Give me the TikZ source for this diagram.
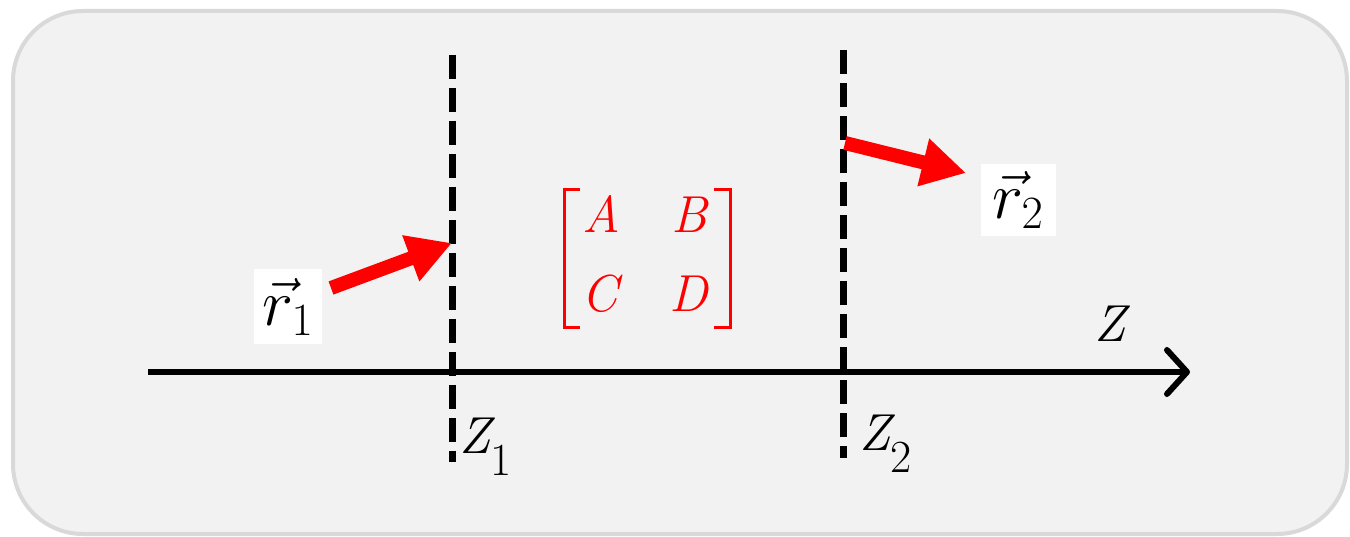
\RequirePackage{fix-cm}
\documentclass[tikz,border=0pt]{standalone}
\usetikzlibrary{arrows.meta}
\definecolor{bgfill}{HTML}{F2F2F2}
\definecolor{bgline}{HTML}{D9D9D9}
\begin{document}
\begin{tikzpicture}[x=1pt,y=-1pt,
  plane/.style={line width=7pt, dash pattern=on 24pt off 9pt},
  redarrow/.style={red, line width=14pt, -{Triangle[length=44pt,width=46pt]}},
  vecbox/.style={fill=white, inner sep=0pt, font=\fontsize{66}{66}\selectfont},
  mat/.style={red, inner sep=0pt, anchor=base, font=\fontsize{52}{52}\selectfont\itshape},
  zlab/.style={inner sep=0pt, anchor=base west, font=\fontsize{52}{52}\selectfont\itshape},
  bracket/.style={red, line width=3pt}
]
\useasboundingbox (0,0) rectangle (1350,537);
\draw[rounded corners=70pt, fill=bgfill, draw=bgline, line width=4pt] (13,11) rectangle (1347,534);
% axis
\coordinate (ax0) at (148,372);
\coordinate (ax1) at (1190,372);
\draw[line width=6pt, -{Straight Barb[length=20pt,width=44pt,round]}] (ax0) -- (ax1);
\node[zlab] (zax) at (1094,342) {Z};
% planes
\coordinate (p1t) at (452,55);
\coordinate (p1b) at (452,462);
\coordinate (p2t) at (843,50);
\coordinate (p2b) at (843,458);
\draw[plane] (p1t) -- (p1b);
\draw[plane] (p2t) -- (p2b);
\node[zlab] (z1) at (459,453) {Z\raisebox{-22pt}{\upshape\fontsize{46}{46}\selectfont 1}};
\node[zlab] (z2) at (859,450) {Z\raisebox{-22pt}{\upshape\fontsize{46}{46}\selectfont 2}};
% vectors
\node[vecbox, minimum width=68pt, minimum height=75pt] (r1) at (288,307) {$\vec{r}_1$};
\node[vecbox, minimum width=75pt, minimum height=72pt] (r2) at (1018,200) {$\vec{r}_2$};
\coordinate (a1s) at (331,288);
\coordinate (a1e) at (452,243);
\coordinate (a2s) at (845,143);
\coordinate (a2e) at (966,173);
\draw[redarrow] (a1s) -- (a1e);
\draw[redarrow] (a2s) -- (a2e);
% matrix
\node[mat] (mA) at (601,233) {A};
\node[mat] (mB) at (689,233) {B};
\node[mat] (mC) at (600,312) {C};
\node[mat] (mD) at (689,312) {D};
\draw[bracket] (580,190) -- (564,190) -- (564,328) -- (580,328);
\draw[bracket] (714,190) -- (730,190) -- (730,328) -- (714,328);
\end{tikzpicture}
\end{document}
